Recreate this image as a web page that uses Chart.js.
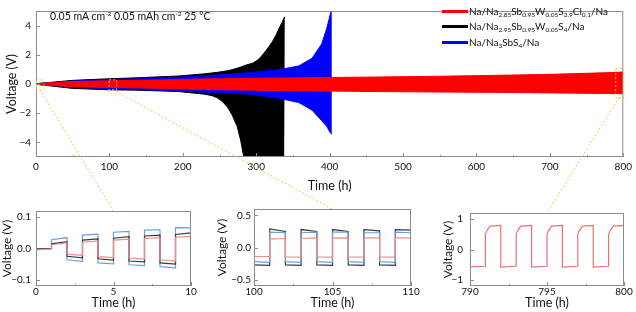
<!DOCTYPE html>
<html>
<head>
<meta charset="utf-8">
<script src="https://cdn.jsdelivr.net/npm/chart.js@4.4.1/dist/chart.umd.min.js"></script>
<style>
body { margin: 0; width: 636px; height: 312px; position: relative; background: #fff; font-family: Lato, sans-serif; overflow: hidden; }
canvas { position: absolute; }
#main { left: 0; top: 0; }
#in1 { left: 0; top: 200px; }
#in2 { left: 212px; top: 200px; }
#in3 { left: 424px; top: 200px; }
#ov { left: 0; top: 0; pointer-events: none; }
.txt { position: absolute; font-size: 10px; color: #111; white-space: nowrap; line-height: 14px; height: 14px; }
.txt i { display: inline-block; width: 26px; height: 3px; vertical-align: middle; margin-right: 1px; position: relative; top: -1px; }
sub, sup { font-size: 6.5px; line-height: 0; position: relative; vertical-align: baseline; }
sub { top: 2px; }
sup { top: -4px; }
</style>
</head>
<body>
<canvas id="main" width="636" height="200"></canvas>
<canvas id="in1" width="212" height="112"></canvas>
<canvas id="in2" width="212" height="112"></canvas>
<canvas id="in3" width="212" height="112"></canvas>
<canvas id="ov" width="636" height="312"></canvas>

<div class="txt" style="left:50px; top:9px; font-size:10.5px;">0.05 mA cm<sup>-2</sup> 0.05 mAh cm<sup>-2</sup> 25 °C</div>
<div class="txt" style="left:442px; top:4px;"><i style="background:#ff0000"></i>Na/Na<sub>2.85</sub>Sb<sub>0.95</sub>W<sub>0.05</sub>S<sub>3.9</sub>Cl<sub>0.1</sub>/Na</div>
<div class="txt" style="left:442px; top:19px;"><i style="background:#000000"></i>Na/Na<sub>2.95</sub>Sb<sub>0.95</sub>W<sub>0.05</sub>S<sub>4</sub>/Na</div>
<div class="txt" style="left:442px; top:35px;"><i style="background:#0000ff"></i>Na/Na<sub>3</sub>SbS<sub>4</sub>/Na</div>

<script>
// main plot: envelopes of the cycling curves (h, V)
const redTime  = [0, 50, 100, 136, 226, 294, 331, 466, 550, 647, 700, 782, 800];
const redUpper = [0.02, 0.17, 0.22, 0.24, 0.34, 0.39, 0.41, 0.48, 0.53, 0.61, 0.66, 0.78, 0.82];
const redLower = [-0.02, -0.18, -0.24, -0.26, -0.37, -0.42, -0.45, -0.52, -0.55, -0.58, -0.61, -0.65, -0.67];

const blueTime  = [0, 50, 100, 136, 195, 226, 263, 294, 331, 358, 376, 389, 396, 401, 403];
const blueUpper = [0.02, 0.2, 0.3, 0.35, 0.46, 0.55, 0.67, 0.79, 0.98, 1.24, 1.76, 2.73, 3.8, 4.8, 5.5];
const blueLower = [-0.02, -0.22, -0.32, -0.37, -0.47, -0.54, -0.63, -0.71, -0.98, -1.27, -1.79, -2.5, -2.9, -3.35, -3.45];

const blackTime  = [0, 50, 100, 136, 195, 230, 240, 247, 254, 261, 267, 274, 279, 283, 285, 295, 302, 308, 315, 322, 327, 331, 335, 338, 339];
const blackUpper = [0.02, 0.25, 0.36, 0.42, 0.55, 0.7, 0.76, 0.8, 0.85, 0.91, 0.98, 1.08, 1.16, 1.24, 1.28, 1.42, 1.65, 1.95, 2.4, 2.9, 3.35, 3.8, 4.2, 4.56, 4.6];
const blackLower = [-0.02, -0.3, -0.4, -0.42, -0.52, -0.7, -0.8, -0.95, -1.2, -1.6, -2.1, -2.9, -3.9, -5.0, -6, -6, -6, -6, -6, -6, -6, -6, -6, -6, -6];

const mainXTicks = [0, 100, 200, 300, 400, 500, 600, 700, 800];
const mainYTicks = [-4, -2, 0, 2, 4];

// inset 1: 0-10 h
const in1Time  = [0, 1, 1, 2, 2, 3, 3, 4, 4, 5, 5, 6, 6, 7, 7, 8, 8, 9, 9, 10];
const in1Blue  = [0, 0, 0.028, 0.035, -0.036, -0.041, 0.043, 0.046, -0.046, -0.049, 0.052, 0.055, -0.052, -0.055, 0.059, 0.060, -0.058, -0.062, 0.067, 0.066];
const in1Black = [-0.002, 0, 0.015, 0.022, -0.025, -0.030, 0.027, 0.031, -0.033, -0.037, 0.033, 0.038, -0.040, -0.043, 0.040, 0.043, -0.046, -0.050, 0.045, 0.050];
const in1Red   = [-0.004, -0.002, 0.012, 0.018, -0.018, -0.022, 0.020, 0.024, -0.026, -0.029, 0.027, 0.030, -0.031, -0.034, 0.032, 0.035, -0.036, -0.040, 0.036, 0.039];
const in1XTicks = [0, 5, 10];
const in1YTicks = [-0.1, 0, 0.1];

// inset 2: 100-110 h
const in2Time  = [100, 101, 101, 102, 102, 103, 103, 104, 104, 105, 105, 106, 106, 107, 107, 108, 108, 109, 109, 110];
const in2Black = [-0.27, -0.28, 0.29, 0.25, -0.27, -0.28, 0.28, 0.25, -0.27, -0.28, 0.28, 0.25, -0.27, -0.28, 0.28, 0.26, -0.27, -0.28, 0.28, 0.27];
const in2Blue  = [-0.22, -0.23, 0.24, 0.23, -0.22, -0.23, 0.23, 0.24, -0.22, -0.23, 0.24, 0.24, -0.22, -0.23, 0.23, 0.23, -0.22, -0.23, 0.24, 0.23];
const in2Red   = [-0.14, -0.14, 0.13, 0.14, -0.145, -0.15, 0.14, 0.15, -0.145, -0.15, 0.145, 0.15, -0.145, -0.15, 0.15, 0.15, -0.145, -0.15, 0.15, 0.15];
const in2XTicks = [100, 105, 110];
const in2YTicks = [-0.5, 0, 0.5];

// inset 3: 790-800 h
const in3Time = [790, 790, 791, 791, 791.1, 791.3, 792, 792, 793, 793, 793.1, 793.3, 794, 794, 795, 795, 795.1, 795.3, 796, 796, 797, 797, 797.1, 797.3, 798, 798, 799, 799, 799.1, 799.3, 800];
const in3Red  = [0.78, -0.57, -0.55, 0.5, 0.62, 0.77, 0.79, -0.58, -0.55, 0.5, 0.62, 0.77, 0.79, -0.58, -0.55, 0.5, 0.62, 0.77, 0.79, -0.58, -0.55, 0.5, 0.62, 0.77, 0.79, -0.58, -0.55, 0.5, 0.62, 0.77, 0.79];
const in3XTicks = [790, 795, 800];
const in3YTicks = [-1, 0, 1];

const pts = (t, v) => t.map((x, i) => ({ x, y: v[i] }));
const minus = s => String(s).replace('-', '\u2212');

function band(t, hi, lo, c) {
    return [
        { data: pts(t, hi), borderColor: c, borderWidth: 1, fill: false },
        { data: pts(t, lo), borderColor: c, borderWidth: 1, backgroundColor: c, fill: '-1' }
    ];
}

function line(t, v, c) {
    return { data: pts(t, v), borderColor: c, borderWidth: 1.2, fill: false };
}

// gray frame + inward tick marks
const frame = {
    id: 'frame',
    afterDatasetsDraw(chart) {
        const { ctx, chartArea: a, scales } = chart;
        ctx.save();
        ctx.strokeStyle = '#8c8c8c';
        ctx.lineWidth = 1;
        ctx.strokeRect(a.left + 0.5, a.top + 0.5, a.right - a.left - 1, a.bottom - a.top - 1);
        ctx.beginPath();
        const xs = scales.x.ticks.map(t => t.value);
        xs.forEach((v, i) => {
            const x = Math.round(scales.x.getPixelForValue(v)) + 0.5;
            ctx.moveTo(x, a.bottom); ctx.lineTo(x, a.bottom - 4);
            if (i < xs.length - 1) {
                const m = Math.round(scales.x.getPixelForValue((v + xs[i + 1]) / 2)) + 0.5;
                ctx.moveTo(m, a.bottom); ctx.lineTo(m, a.bottom - 2);
            }
        });
        scales.y.ticks.forEach(t => {
            const y = Math.round(scales.y.getPixelForValue(t.value)) + 0.5;
            ctx.moveTo(a.left, y); ctx.lineTo(a.left + 4, y);
        });
        ctx.stroke();
        ctx.restore();
    }
};

function makeChart(id, datasets, o) {
    return new Chart(document.getElementById(id), {
        type: 'line',
        data: { datasets },
        plugins: [frame],
        options: {
            responsive: false,
            animation: false,
            events: [],
            layout: { padding: o.pad },
            elements: { point: { radius: 0 }, line: { tension: 0 } },
            plugins: { legend: { display: false }, tooltip: { enabled: false } },
            scales: {
                x: {
                    type: 'linear', min: o.xMin, max: o.xMax,
                    afterBuildTicks: s => { s.ticks = o.xTicks.map(v => ({ value: v })); },
                    afterFit: s => { s.height = o.xH; },
                    grid: { display: false, drawTicks: false }, border: { display: false },
                    ticks: { color: '#111', font: { family: 'Lato', size: 10 }, padding: o.xPad, maxRotation: 0, callback: v => minus(v) },
                    title: { display: true, text: 'Time (h)', color: '#111', font: { family: 'Lato', size: 12.5 }, padding: { top: 0, bottom: o.xTitlePad } }
                },
                y: {
                    type: 'linear', min: o.yMin, max: o.yMax,
                    afterBuildTicks: s => { s.ticks = o.yTicks.map(v => ({ value: v })); },
                    afterFit: s => { s.width = o.yW; },
                    grid: { display: false, drawTicks: false }, border: { display: false },
                    ticks: { color: '#111', font: { family: 'Lato', size: 10 }, padding: o.yPad, callback: v => minus(o.yFmt(v)) },
                    title: { display: true, text: 'Voltage (V)', color: '#111', font: { family: 'Lato', size: o.yTitleSize }, padding: { top: o.yTitlePad, bottom: 0 } }
                }
            }
        }
    });
}

const main = makeChart('main', [
    ...band(redTime, redUpper, redLower, '#ff0000'),
    ...band(blueTime, blueUpper, blueLower, '#0000ff'),
    ...band(blackTime, blackUpper, blackLower, '#000000')
], { pad: { top: 1, right: 10 }, xMin: 0, xMax: 800, yMin: -5, yMax: 5, xTicks: mainXTicks, yTicks: mainYTicks,
     xH: 43, yW: 36, xPad: 4, yPad: 5, xTitlePad: 7, yTitlePad: 4, yTitleSize: 12.5, yFmt: v => v });

const in1 = makeChart('in1', [
    line(in1Time, in1Red, '#f28b8b'),
    line(in1Time, in1Black, '#3a3a3a'),
    line(in1Time, in1Blue, '#6a9fe0')
], { pad: { top: 7, right: 21 }, xMin: 0, xMax: 10, yMin: -0.12, yMax: 0.12, xTicks: in1XTicks, yTicks: in1YTicks,
     xH: 26, yW: 36, xPad: 0, yPad: 5, xTitlePad: 2, yTitlePad: 0, yTitleSize: 12, yFmt: v => v.toFixed(1) });

const in2 = makeChart('in2', [
    line(in2Time, in2Red, '#f28b8b'),
    line(in2Time, in2Blue, '#6a9fe0'),
    line(in2Time, in2Black, '#3a3a3a')
], { pad: { top: 6, right: 13 }, xMin: 100, xMax: 110, yMin: -0.6, yMax: 0.6, xTicks: in2XTicks, yTicks: in2YTicks,
     xH: 26, yW: 42, xPad: 0, yPad: 3, xTitlePad: 2, yTitlePad: 3, yTitleSize: 12, yFmt: v => v.toFixed(1) });

const in3 = makeChart('in3', [
    line(in3Time, in3Red, '#f07070')
], { pad: { top: 7, right: 12 }, xMin: 790, xMax: 800, yMin: -1.2, yMax: 1.2, xTicks: in3XTicks, yTicks: in3YTicks,
     xH: 26, yW: 46, xPad: 0, yPad: 7, xTitlePad: 2, yTitlePad: 17, yTitleSize: 12, yFmt: v => v });

// dashed zoom boxes on the main plot and leader lines to the insets
const boxes = [
    { t0: 0, t1: 10, v0: -0.38, v1: 0.32, inset: in1, top: 200 },
    { t0: 99, t1: 109, v0: -0.38, v1: 0.32, inset: in2, top: 200, left: 212 },
    { t0: 789, t1: 800, v0: -0.9, v1: 1.1, inset: in3, top: 200, left: 424 }
];
const ov = document.getElementById('ov').getContext('2d');
ov.strokeStyle = '#f5c34a';
ov.lineWidth = 1;
ov.setLineDash([2, 2]);
boxes.forEach(b => {
    const sx = main.scales.x, sy = main.scales.y;
    const x0 = sx.getPixelForValue(b.t0), x1 = sx.getPixelForValue(b.t1);
    const y0 = sy.getPixelForValue(b.v1), y1 = sy.getPixelForValue(b.v0);
    ov.strokeRect(x0 + 0.5, y0 + 0.5, x1 - x0, y1 - y0);
    const a = b.inset.chartArea;
    const tx = (b.left || 0) + (a.left + a.right) / 2, ty = b.top + a.top;
    ov.beginPath();
    ov.moveTo((x0 + x1) / 2, y1);
    ov.lineTo(tx, ty);
    ov.stroke();
});
</script>
</body>
</html>
